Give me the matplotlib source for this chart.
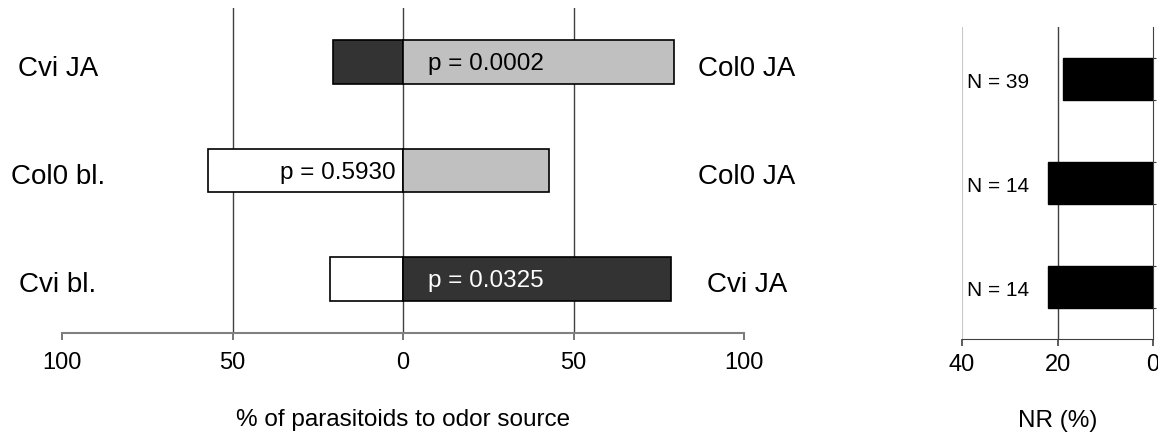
import numpy as np
import matplotlib
matplotlib.use("Agg")
import matplotlib.pyplot as plt

plt.rcParams['font.family'] = ['Liberation Sans', 'DejaVu Sans']

# choice test data (rows top to bottom)
left_labels = ["Cvi JA", "Col0 bl.", "Cvi bl."]
right_labels = ["Col0 JA", "Col0 JA", "Cvi JA"]
left_pct = [20.5, 57.1, 21.4]     # % to left odor source
right_pct = [79.5, 42.9, 78.6]    # % to right odor source
left_colors = ["#333333", "white", "white"]
right_colors = ["#c0c0c0", "#c0c0c0", "#333333"]
p_values = ["p = 0.0002", "p = 0.5930", "p = 0.0325"]

# non-responders
nr_pct = [18.8, 22.0, 22.0]
n_labels = ["N = 39", "N = 14", "N = 14"]

W, H = 1158, 434
fig = plt.figure(figsize=(W / 100, H / 100), dpi=100)


def px_axes(x0, x1, y0, y1):
    # pixel box (top-left origin) -> figure axes
    return fig.add_axes([x0 / W, (H - y1) / H, (x1 - x0) / W, (y1 - y0) / H])


# ---- left panel: preference
ax = px_axes(62, 744, 8, 333)
y = np.arange(len(left_labels))
ax.barh(y, [-v for v in left_pct], height=0.4, color=left_colors,
        edgecolor="black", linewidth=1.2, zorder=3)
ax.barh(y, right_pct, height=0.4, color=right_colors,
        edgecolor="black", linewidth=1.2, zorder=3)
for g in (-50, 0, 50):
    ax.axvline(g, color="#404040", lw=1, zorder=1)
ax.set_xlim(-100, 100)
ax.set_ylim(2.5, -0.5)
ax.set_xticks([-100, -50, 0, 50, 100])
ax.set_xticklabels(["100", "50", "0", "50", "100"])
ax.set_yticks([])
for s in ("top", "left", "right"):
    ax.spines[s].set_visible(False)
ax.spines["bottom"].set_color("#808080")
ax.spines["bottom"].set_linewidth(1.5)
ax.tick_params(axis="x", direction="out", length=5, width=1.2, color="#606060",
               labelsize=17, pad=9)
ax.set_xlabel("% of parasitoids to odor source", fontsize=17.5, labelpad=25)

for i in range(len(left_labels)):
    ax.text(-101.2, i + 0.06, left_labels[i], ha="center", va="center",
            fontsize=20, clip_on=False)
    ax.text(100.9, i + 0.06, right_labels[i], ha="center", va="center",
            fontsize=20, clip_on=False)

ax.text(7.3, 0.02, p_values[0], ha="left", va="center", fontsize=17.5,
        color="black", zorder=4)
ax.text(-2.3, 1.02, p_values[1], ha="right", va="center", fontsize=17.5,
        color="black", zorder=4)
ax.text(7.3, 2.02, p_values[2], ha="left", va="center", fontsize=17.5,
        color="white", zorder=4)

# ---- right panel: non-responders
ax2 = px_axes(962, 1153, 27, 339)
ax2.barh(y, nr_pct, height=0.41, color="black", edgecolor="black",
         linewidth=1, zorder=3)
ax2.axvline(20, color="#404040", lw=1, zorder=1)
ax2.set_xlim(40, 0)
ax2.set_ylim(2.5, -0.5)
ax2.set_xticks([40, 20, 0])
ax2.set_xticklabels(["40", "20", "0"])
ax2.spines["top"].set_visible(False)
ax2.spines["left"].set_visible(False)
ax2.spines["right"].set_color("#404040")
ax2.spines["bottom"].set_color("#404040")
ax2.axvline(40, color="#c8c8c8", lw=1.5, zorder=1)
ax2.yaxis.tick_right()
edges = np.concatenate([y - 0.205, y + 0.205])
ax2.set_yticks(edges)
ax2.set_yticklabels([])
ax2.tick_params(axis="y", direction="out", length=2, color="#404040")
ax2.tick_params(axis="x", direction="out", length=5, width=1.2, color="#404040",
                labelsize=17, pad=6)
ax2.set_xlabel("NR (%)", fontsize=17.5, labelpad=24)
for i in range(len(n_labels)):
    ax2.text(39, i + 0.03, n_labels[i], ha="left", va="center", fontsize=15)

fig.savefig("out.png", dpi=100)
